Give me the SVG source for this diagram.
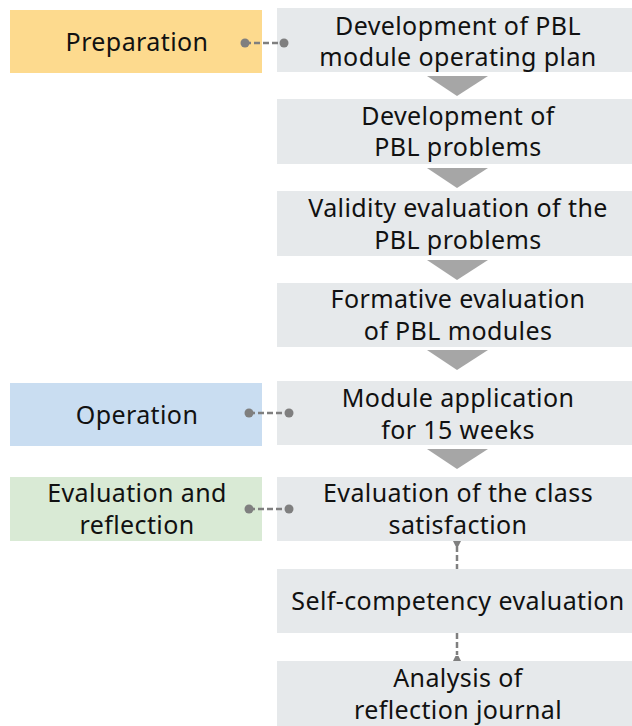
<svg xmlns="http://www.w3.org/2000/svg" width="632" height="726" viewBox="0 0 632 726">
<defs>
<style>
.step{fill:#E6E9EB}
.t{font-family:"Noto Sans","Noto Sans CJK KR",sans-serif;font-size:25px;letter-spacing:0.4px;fill:#111;text-anchor:middle}
.arr{fill:#A6A6A6}
.dl{stroke:#7F7F7F;stroke-width:2.5;stroke-dasharray:6 3;fill:none}
.dot{fill:#7F7F7F}
</style>
</defs>
<rect width="632" height="726" fill="#fff"/>
<g id="phase-preparation"><rect x="10" y="10" width="252" height="63" fill="#FDDA8E"/><text class="t" x="137" y="51">Preparation</text></g>
<g id="phase-operation"><rect x="10" y="383" width="252" height="63" fill="#C9DDF1"/><text class="t" x="137" y="424">Operation</text></g>
<g id="phase-evaluation"><rect x="10" y="477" width="252" height="64" fill="#D9EAD5"/><text class="t" x="137" y="502">Evaluation and</text><text class="t" x="137" y="534">reflection</text></g>
<g id="step1"><rect class="step" x="277" y="8" width="355" height="64"/><text class="t" x="458" y="35">Development of PBL</text><text class="t" x="458" y="66">module operating plan</text></g>
<g id="step2"><rect class="step" x="277" y="99" width="355" height="65"/><text class="t" x="458" y="125">Development of</text><text class="t" x="458" y="156">PBL problems</text></g>
<g id="step3"><rect class="step" x="277" y="191" width="355" height="65"/><text class="t" x="458" y="217">Validity evaluation of the</text><text class="t" x="458" y="249">PBL problems</text></g>
<g id="step4"><rect class="step" x="277" y="283" width="355" height="64"/><text class="t" x="458" y="308">Formative evaluation</text><text class="t" x="458" y="340">of PBL modules</text></g>
<g id="step5"><rect class="step" x="277" y="381" width="355" height="64"/><text class="t" x="458" y="407">Module application</text><text class="t" x="458" y="439">for 15 weeks</text></g>
<g id="step6"><rect class="step" x="277" y="477" width="355" height="64"/><text class="t" x="458" y="502">Evaluation of the class</text><text class="t" x="458" y="534">satisfaction</text></g>
<g id="step7"><rect class="step" x="277" y="569" width="355" height="64"/><text class="t" x="458" y="610">Self-competency evaluation</text></g>
<g id="step8"><rect class="step" x="277" y="661" width="355" height="65"/><text class="t" x="458" y="687">Analysis of</text><text class="t" x="458" y="719">reflection journal</text></g>
<g id="connectors">
<polygon class="arr" points="427,76 488,76 457,96"/>
<polygon class="arr" points="427,168 488,168 457,188"/>
<polygon class="arr" points="427,260 488,260 457,280"/>
<polygon class="arr" points="427,350 488,350 457,370"/>
<polygon class="arr" points="427,449 488,449 457,469"/>
<path class="dl" d="M245,43H284"/><circle class="dot" cx="245" cy="43" r="4.5"/><circle class="dot" cx="284" cy="43" r="4.5"/>
<path class="dl" d="M249,413H289"/><circle class="dot" cx="249" cy="413" r="4.5"/><circle class="dot" cx="289" cy="413" r="4.5"/>
<path class="dl" d="M249,509H289"/><circle class="dot" cx="249" cy="509" r="4.5"/><circle class="dot" cx="289" cy="509" r="4.5"/>
<path class="dl" d="M457,546V569"/><polygon class="dot" points="453,541 461,541 458.5,546 455.5,546"/>
<path class="dl" d="M457,633V655"/><polygon class="dot" points="455.5,656 458.5,656 461,661 453,661"/>
</g>
</svg>
